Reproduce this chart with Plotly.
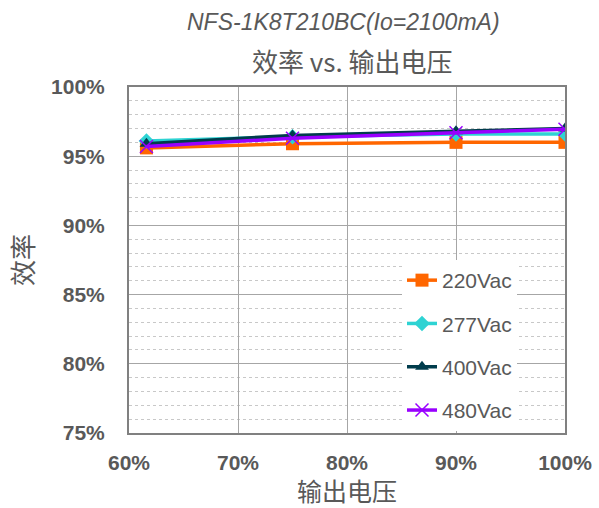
import plotly.graph_objects as go

x_load = [0.616, 0.75, 0.90, 1.00]
eff_220 = [0.956, 0.959, 0.960, 0.960]
eff_277 = [0.961, 0.964, 0.966, 0.966]
eff_400 = [0.959, 0.965, 0.968, 0.970]
eff_480 = [0.957, 0.963, 0.967, 0.9695]
series_names = ["220Vac", "277Vac", "400Vac", "480Vac"]

styles = [
    dict(color="#FF6600", symbol="square", size=13, lw=3.5),
    dict(color="#2ED3D3", symbol="diamond", size=12, lw=3.5),
    dict(color="#003C4C", symbol="triangle-up", size=12, lw=3.5),
    dict(color="#9900FF", symbol="x-thin", size=13, lw=3.5),
]

fig = go.Figure()
for i, (name, ys) in enumerate(zip(series_names, [eff_220, eff_277, eff_400, eff_480])):
    st = styles[i]
    marker = dict(color=st["color"], symbol=st["symbol"], size=st["size"])
    if st["symbol"] == "x-thin":
        marker["line"] = dict(color=st["color"], width=1.5)
    fig.add_trace(go.Scatter(
        x=x_load, y=ys, name=name, mode="lines+markers",
        line=dict(color=st["color"], width=st["lw"]),
        marker=marker, legendgroup=name,
    ))

grey = "#595959"
L, R, T, B = 129, 34, 87, 75
W, H = 599, 508
pw = W - L - R
ph = H - T - B


def px_to_paper(xp, yp):
    return (xp - L) / pw, (H - B - yp) / ph


lx, ly = px_to_paper(402, 260)
fig.update_layout(
    width=W, height=H,
    margin=dict(l=L, r=R, t=T, b=B, autoexpand=False),
    paper_bgcolor="white", plot_bgcolor="white",
    font=dict(family="Liberation Sans, Arial", color=grey),
    showlegend=True,
    legend=dict(
        x=lx, y=ly, xanchor="left", yanchor="top",
        bgcolor="white", borderwidth=0,
        font=dict(size=21, color=grey, family="Liberation Sans, Arial"),
        tracegroupgap=13,
    ),
)

ax, ay = px_to_paper(343, 22)
bx, by = px_to_paper(352, 60)
fig.add_annotation(text="<i>NFS-1K8T210BC(Io=2100mA)</i>", x=ax, y=ay, xref="paper", yref="paper",
                   xanchor="center", yanchor="middle",
                   showarrow=False, font=dict(size=23, color=grey, family="Liberation Sans, Arial"))
fig.add_annotation(text="效率 vs. 输出电压", x=bx, y=by, xref="paper", yref="paper",
                   xanchor="center", yanchor="middle",
                   showarrow=False, font=dict(size=26, color=grey, family="Noto Sans CJK SC"))

fig.update_xaxes(
    range=[0.6, 1.0], dtick=0.1, tick0=0.6, tickformat=".0%",
    showgrid=True, gridcolor="#A6A6A6", gridwidth=1,
    showline=True, linecolor="#808080", linewidth=2, mirror=True,
    ticks="", ticklabelstandoff=10, automargin=False,
    tickfont=dict(size=21, color=grey, family="Liberation Sans, Arial", weight="bold"),
    title=dict(text="输出电压", font=dict(size=25, color=grey, family="Noto Sans CJK SC"), standoff=10),
    zeroline=False,
)
fig.update_yaxes(
    range=[0.75, 1.0], dtick=0.05, tick0=0.75, tickformat=".0%",
    showgrid=True, gridcolor="#A6A6A6", gridwidth=1,
    minor=dict(dtick=0.01, showgrid=True, gridcolor="#C8C8C8", griddash="dot", gridwidth=1),
    showline=True, linecolor="#808080", linewidth=2, mirror=True,
    ticks="", ticklabelstandoff=18, automargin=False,
    tickfont=dict(size=21, color=grey, family="Liberation Sans, Arial", weight="bold"),
    title=dict(text="效率", font=dict(size=26, color=grey, family="Noto Sans CJK SC"), standoff=10),
    zeroline=False,
)

fig.write_html("out.html")
